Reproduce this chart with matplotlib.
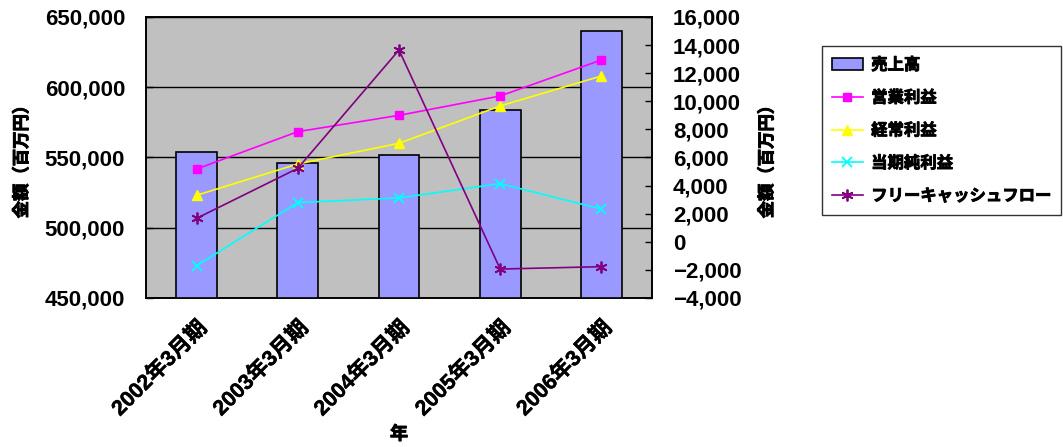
import numpy as np
import matplotlib
matplotlib.use("Agg")
import matplotlib.pyplot as plt
import matplotlib.patheffects as pe
from matplotlib.ticker import FuncFormatter, MultipleLocator

plt.rcParams["font.family"] = ["Liberation Sans", "Noto Sans CJK JP"]
plt.rcParams["font.weight"] = "bold"

# data (百万円)
periods = ["2002年3月期", "2003年3月期", "2004年3月期", "2005年3月期", "2006年3月期"]
sales = [554100, 546100, 551600, 583600, 640000]
operating_income = [5180, 7840, 9000, 10380, 12940]
ordinary_income = [3310, 5540, 7010, 9670, 11800]
net_income = [-1700, 2790, 3120, 4140, 2330]
free_cash_flow = [1670, 5230, 13650, -1940, -1770]

fig = plt.figure(figsize=(10.63, 4.47), dpi=100)
ax = fig.add_axes([146 / 1063, 1 - 298 / 447, 506 / 1063, 281 / 447])
ax2 = ax.twinx()

x = np.arange(len(periods))
cjk = ["Noto Sans CJK JP"]
# the CJK face has no bold weight installed, so thicken the glyphs
heavy = [pe.withStroke(linewidth=0.7, foreground="black")]

# bars on the left axis
ax.set_facecolor("#C0C0C0")
bars = ax.bar(x, sales, width=0.405, color="#9999FF", edgecolor="black",
              linewidth=1.2, zorder=3, label="売上高")
ax.set_ylim(450000, 650000)
ax.yaxis.set_major_locator(MultipleLocator(50000))
ax.yaxis.set_major_formatter(FuncFormatter(lambda v, p: f"{int(v):,}"))
ax.grid(axis="y", color="black", linewidth=1.0, zorder=1)
ax.set_xlim(-0.5, len(periods) - 0.5)
ax.set_xticks(x)
ax.set_xticklabels(periods, rotation=45, ha="right", rotation_mode="anchor",
                   fontsize=15.5, fontweight="bold")
for lbl in ax.get_xticklabels():
    lbl.set_path_effects([pe.withStroke(linewidth=0.3, foreground="black")])
ax.tick_params(axis="x", length=0, pad=14)
ax.tick_params(axis="y", direction="in", length=5, width=1, pad=15)
for lbl in ax.get_yticklabels():
    lbl.set_fontsize(16)
    lbl.set_fontweight("bold")
ax.set_xlabel("年", family=cjk, fontsize=13, fontweight="bold", labelpad=3,
              path_effects=heavy)
ax.set_ylabel("金額（百万円）", family=cjk, fontsize=12.5, fontweight="bold",
              labelpad=10, path_effects=heavy)

# profit / cash-flow lines on the right axis
lines = []
lines += ax2.plot(x, operating_income, color="#FF00FF", marker="s", markersize=5.5,
                  linewidth=1.2, label="営業利益")
lines += ax2.plot(x, ordinary_income, color="#FFFF00", marker="^", markersize=7.5,
                  linewidth=1.2, label="経常利益")
lines += ax2.plot(x, net_income, color="#00FFFF", marker="x", markersize=7.5,
                  markeredgewidth=1.3, linewidth=1.2, label="当期純利益")
lines += ax2.plot(x, free_cash_flow, color="#800080", marker=(6, 2, 0), markersize=8.5,
                  markeredgewidth=1.3, linewidth=1.2, label="フリーキャッシュフロー")
ax2.set_ylim(-4000, 16000)
ax2.yaxis.set_major_locator(MultipleLocator(2000))
ax2.yaxis.set_major_formatter(FuncFormatter(lambda v, p: f"{int(v):,}".replace("-", "\u2212")))
ax2.tick_params(axis="y", direction="in", length=5, width=1, pad=15)
for lbl in ax2.get_yticklabels():
    lbl.set_fontsize(16)
    lbl.set_fontweight("bold")
ax2.set_ylabel("金額（百万円）", family=cjk, fontsize=12.5, fontweight="bold",
               rotation=90, labelpad=12, path_effects=heavy)

for a in (ax, ax2):
    for s in a.spines.values():
        s.set_linewidth(1.2)

leg = fig.legend([bars] + lines, ["売上高"] + [l.get_label() for l in lines],
                 loc="upper left", bbox_to_anchor=(822 / 1063, 1 - 46 / 447),
                 frameon=True, fancybox=False, edgecolor="black",
                 prop=dict(family=cjk, weight="bold", size=11.8),
                 handlelength=1.9, handletextpad=0.5, labelspacing=0.9,
                 borderpad=0.6, borderaxespad=0)
leg.get_frame().set_linewidth(1.0)
for t in leg.get_texts():
    t.set_path_effects([pe.withStroke(linewidth=0.6, foreground="black")])

fig.savefig("out.png", dpi=100)
